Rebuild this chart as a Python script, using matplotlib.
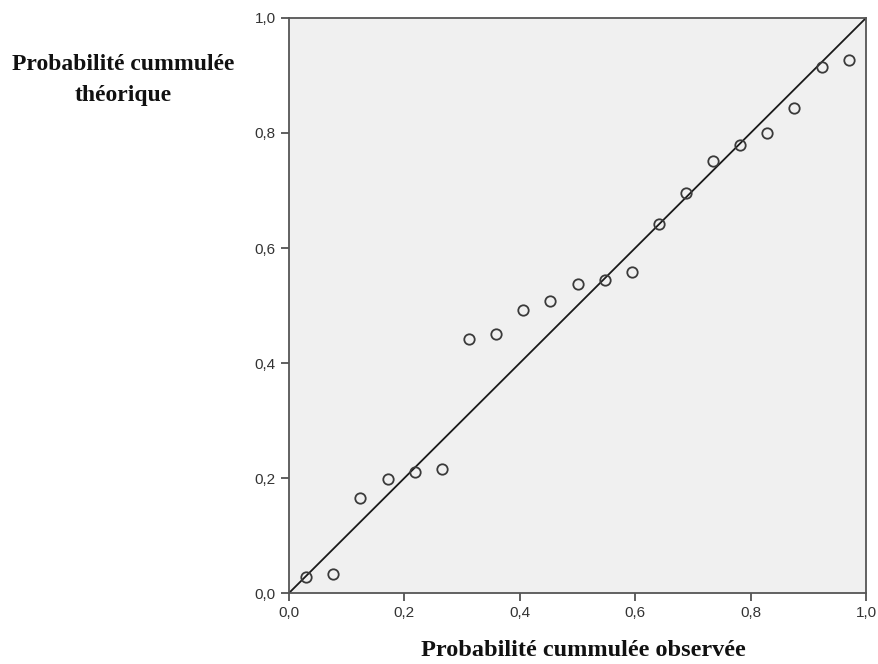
import matplotlib.pyplot as plt
from matplotlib.ticker import FuncFormatter

# probabilités cumulées observées / théoriques
observee = [0.029, 0.076, 0.123, 0.171, 0.218, 0.265, 0.312, 0.359, 0.406, 0.453, 0.500,
            0.547, 0.594, 0.641, 0.688, 0.735, 0.782, 0.829, 0.876, 0.924, 0.971]
theorique = [0.028, 0.033, 0.165, 0.198, 0.210, 0.216, 0.442, 0.450, 0.492, 0.508, 0.537,
             0.544, 0.558, 0.642, 0.696, 0.751, 0.779, 0.800, 0.843, 0.915, 0.927]
graduations = [0.0, 0.2, 0.4, 0.6, 0.8, 1.0]

fig = plt.figure(figsize=(8.79, 6.64), dpi=100)
ax = fig.add_axes([0.3288, 0.1069, 0.6564, 0.8660])
ax.set_facecolor('#f0f0f0')

# droite de référence
ax.plot([0, 1], [0, 1], color='#1a1a1a', lw=1.3, zorder=2)
ax.plot(observee, theorique, 'o', ms=7.5, mfc='none', mec='#3a3a3a', mew=1.3, zorder=3)

ax.set_xlim(0, 1)
ax.set_ylim(0, 1)
ax.set_xticks(graduations)
ax.set_yticks(graduations)
virgule = FuncFormatter(lambda v, p: f'{v:.1f}'.replace('.', ','))
ax.xaxis.set_major_formatter(virgule)
ax.yaxis.set_major_formatter(virgule)
ax.tick_params(direction='out', length=6, width=1.2, color='#444444',
               labelsize=11, labelcolor='#333333')
for lab in ax.get_xticklabels() + ax.get_yticklabels():
    lab.set_family('Liberation Sans')
for s in ax.spines.values():
    s.set_color('#555555')
    s.set_linewidth(1.3)

fig.text(123 / 879, 1 - 80 / 664, 'Probabilité cummulée\nthéorique', ha='center', va='center',
         multialignment='center', family='Liberation Serif', fontweight='bold', fontsize=17,
         color='#111111', linespacing=1.65)
fig.text(583 / 879, 1 - 651 / 664, 'Probabilité cummulée observée', ha='center', va='center',
         family='Liberation Serif', fontweight='bold', fontsize=17.5, color='#111111')

fig.savefig('out.png', dpi=100)
